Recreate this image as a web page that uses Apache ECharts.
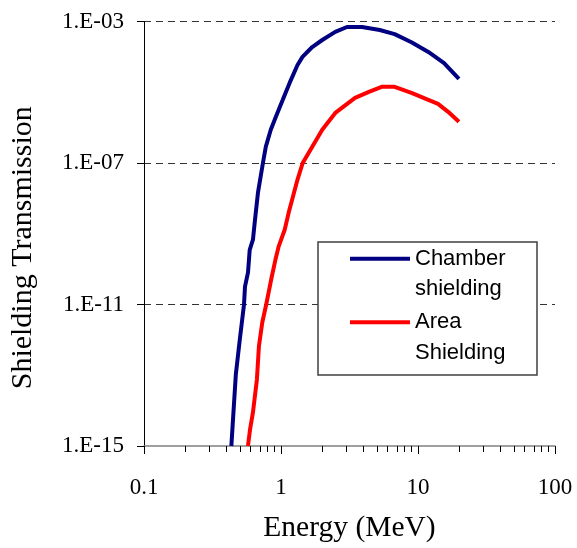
<!DOCTYPE html>
<html>
<head>
<meta charset="utf-8">
<script src="https://cdn.jsdelivr.net/npm/echarts@6/dist/echarts.min.js"></script>
<style>
	html, body { margin: 0; padding: 0; background: #fff; }
	#main { width: 577px; height: 548px; }
</style>
</head>
<body>
<div id="main"></div>
<script>
// energies (MeV) and transmissions
var chamberEnergy = [0.434, 0.468, 0.50, 0.537, 0.546, 0.574, 0.591, 0.624, 0.646, 0.679, 0.738, 0.775, 0.842, 0.916, 1.03, 1.156, 1.32, 1.435, 1.69, 2.0, 2.49, 3.03, 3.9, 5.26, 6.75, 8.96, 11.9, 15.5, 19.9];
var chamberTrans = [1e-15, 1.05e-13, 1e-12, 1e-11, 3.2e-11, 8e-11, 3.5e-10, 6.8e-10, 2.5e-9, 1.45e-8, 1e-7, 2.9e-7, 8.7e-7, 2e-6, 6.1e-6, 1.84e-5, 5.9e-5, 1e-4, 1.9e-4, 3.0e-4, 5.1e-4, 7.0e-4, 7.0e-4, 5.75e-4, 4.4e-4, 2.6e-4, 1.38e-4, 6.7e-5, 2.4e-5];

var areaEnergy = [0.574, 0.594, 0.624, 0.667, 0.69, 0.73, 0.78, 0.847, 0.911, 0.962, 1.064, 1.137, 1.32, 1.44, 2.0, 2.49, 3.47, 4.38, 5.43, 6.75, 8.96, 11.9, 14.0, 16.6, 19.9];
var areaTrans = [1e-15, 2.9e-15, 8.9e-15, 7.6e-14, 6.6e-13, 3.1e-12, 1e-11, 5e-11, 1.86e-10, 4.4e-10, 1.3e-9, 3.9e-9, 3.4e-8, 1e-7, 8.7e-7, 2.6e-6, 6.9e-6, 1.02e-5, 1.42e-5, 1.42e-5, 9.6e-6, 6.1e-6, 4.7e-6, 2.8e-6, 1.46e-6];

var seriesNames = ['Chamber shielding', 'Area Shielding'];
var xTickLabels = ['0.1', '1', '10', '100'];
var yTickLabels = ['1.E-15', '1.E-11', '1.E-07', '1.E-03'];

// y is drawn as decades above 1E-15
function toPairs(xs, ys) {
	var out = [];
	for (var i = 0; i < xs.length; i++) {
		out.push([xs[i], Math.log10(ys[i]) + 15]);
	}
	return out;
}

// minor ticks at 2..9 of each decade
var minorTicks = [];
[0.1, 1, 10].forEach(function (d) {
	for (var k = 2; k <= 9; k++) minorTicks.push(+(d * k).toPrecision(3));
});

var serif = 'Liberation Serif';
var myChart = echarts.init(document.getElementById('main'));

var option = {
	animation: false,
	grid: { left: 140, right: 22, top: 21.5, bottom: 101 },
	xAxis: [{
		type: 'log',
		logBase: 10,
		min: 0.1,
		max: 100,
		name: 'Energy (MeV)',
		nameLocation: 'middle',
		nameGap: 67,
		nameTextStyle: { fontFamily: serif, fontSize: 29.5, color: '#000' },
		axisLine: { lineStyle: { color: '#808080', width: 1.5 } },
		axisTick: { length: 8, lineStyle: { color: '#000' } },
		axisLabel: {
			margin: 30,
			fontFamily: serif,
			fontSize: 23,
			color: '#000',
			formatter: function (v, i) { return xTickLabels[i]; }
		},
		splitLine: { show: false }
	}, {
		type: 'log',
		logBase: 10,
		min: 0.1,
		max: 100,
		position: 'bottom',
		axisLine: { show: false },
		axisTick: { length: 6, customValues: minorTicks, lineStyle: { color: '#000' } },
		axisLabel: { show: false },
		splitLine: { show: false }
	}],
	yAxis: {
		type: 'value',
		min: 0,
		max: 12,
		interval: 4,
		name: 'Shielding Transmission',
		nameLocation: 'middle',
		nameGap: 106,
		nameTextStyle: { fontFamily: serif, fontSize: 30, color: '#000', padding: [0, 28, 0, 0] },
		axisLine: { show: true, lineStyle: { color: '#000', width: 1 } },
		axisTick: { show: true, length: 7, lineStyle: { color: '#000' } },
		axisLabel: {
			margin: 20,
			fontFamily: serif,
			fontSize: 23,
			color: '#000',
			formatter: function (v, i) { return yTickLabels[i]; }
		},
		splitLine: { show: true, showMinLine: false, lineStyle: { color: '#333', width: 1, type: [7, 5] } }
	},
	legend: {
		orient: 'vertical',
		left: 350,
		top: 213,
		padding: 0,
		itemGap: -28,
		itemWidth: 60,
		itemHeight: 4,
		icon: 'rect',
		data: seriesNames,
		// blank first line so the first word sits level with the line sample
		formatter: function (name) { return ' \n' + name.replace(' ', '\n'); },
		textStyle: {
			fontFamily: 'Liberation Sans',
			fontSize: 22,
			lineHeight: 30.5,
			color: '#000'
		}
	},
	graphic: [{
		type: 'rect',
		z: 3,
		shape: { x: 318, y: 242, width: 219, height: 133 },
		style: { fill: '#fff', stroke: '#404040', lineWidth: 1.5 }
	}],
	series: [{
		name: seriesNames[0],
		type: 'line',
		symbol: 'none',
		clip: true,
		data: toPairs(chamberEnergy, chamberTrans),
		lineStyle: { color: '#000080', width: 4 },
		itemStyle: { color: '#000080' }
	}, {
		name: seriesNames[1],
		type: 'line',
		symbol: 'none',
		clip: true,
		data: toPairs(areaEnergy, areaTrans),
		lineStyle: { color: '#ff0000', width: 4 },
		itemStyle: { color: '#ff0000' }
	}]
};
myChart.setOption(option);
</script>
</body>
</html>
